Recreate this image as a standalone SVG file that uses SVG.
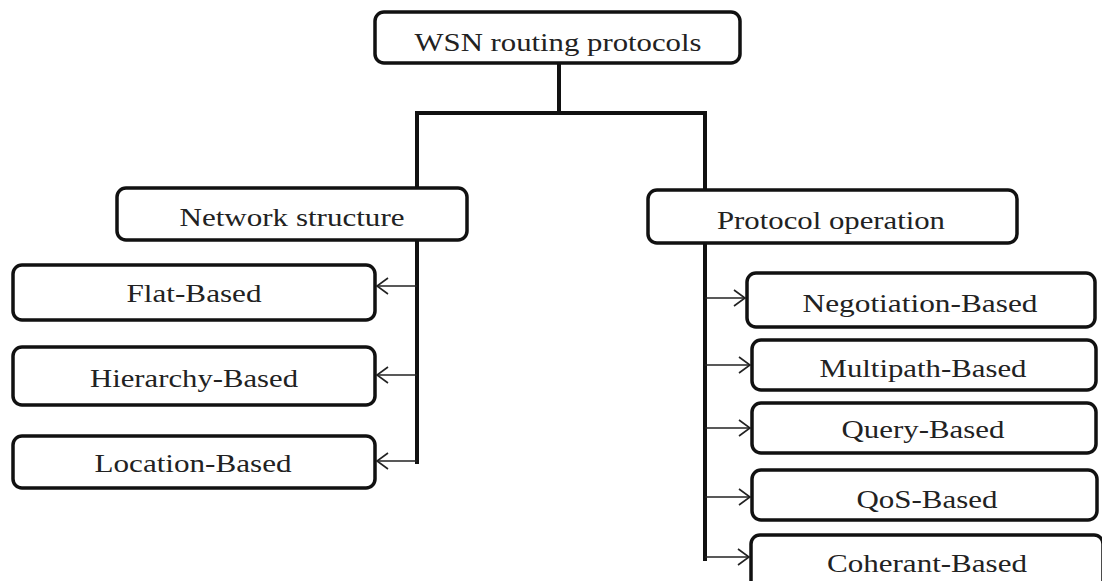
<svg xmlns="http://www.w3.org/2000/svg" width="1102" height="581" viewBox="0 0 1102 581">
<style>
.box{fill:#fff;stroke:#111;stroke-width:3.5}
.lbl{font-family:"Liberation Serif","Times New Roman",serif;font-size:26px;fill:#222;text-anchor:middle}
.main{fill:none;stroke:#111;stroke-width:4;stroke-linecap:square}
.arr{fill:none;stroke:#222;stroke-width:1.6;marker-end:url(#ah)}
</style>
<defs>
<marker id="ah" markerWidth="14" markerHeight="18" refX="12" refY="9" orient="auto" markerUnits="userSpaceOnUse">
<path d="M1,1 L12,9 L1,17" fill="none" stroke="#222" stroke-width="1.6"/>
</marker>
</defs>
<rect width="1102" height="581" fill="#fff"/>
<g id="connectors">
<path class="main" d="M559,63 V113 M417,113 H705 M417,113 V462 M705,113 V559"/>
<line class="arr" x1="417" y1="286" x2="377" y2="286"/>
<line class="arr" x1="417" y1="375" x2="377" y2="375"/>
<line class="arr" x1="417" y1="461" x2="377" y2="461"/>
<line class="arr" x1="705" y1="298" x2="745" y2="298"/>
<line class="arr" x1="705" y1="365" x2="750" y2="365"/>
<line class="arr" x1="705" y1="428" x2="750" y2="428"/>
<line class="arr" x1="705" y1="497" x2="750" y2="497"/>
<line class="arr" x1="705" y1="557" x2="749" y2="557"/>
</g>
<g id="root"><rect class="box" x="375" y="12" width="365" height="51" rx="9"/><text class="lbl" x="558" y="51" textLength="287" lengthAdjust="spacingAndGlyphs">WSN routing protocols</text></g>
<g id="network"><rect class="box" x="117" y="188" width="350" height="52" rx="9"/><text class="lbl" x="292" y="226" textLength="225" lengthAdjust="spacingAndGlyphs">Network structure</text></g>
<g id="protocol"><rect class="box" x="648" y="190" width="369" height="53" rx="9"/><text class="lbl" x="831" y="229" textLength="228" lengthAdjust="spacingAndGlyphs">Protocol operation</text></g>
<g id="flat"><rect class="box" x="13" y="265" width="362" height="55" rx="9"/><text class="lbl" x="194" y="302" textLength="135" lengthAdjust="spacingAndGlyphs">Flat-Based</text></g>
<g id="hierarchy"><rect class="box" x="13" y="347" width="362" height="58" rx="9"/><text class="lbl" x="194" y="387" textLength="208" lengthAdjust="spacingAndGlyphs">Hierarchy-Based</text></g>
<g id="location"><rect class="box" x="13" y="436" width="362" height="52" rx="9"/><text class="lbl" x="193" y="472" textLength="197" lengthAdjust="spacingAndGlyphs">Location-Based</text></g>
<g id="negotiation"><rect class="box" x="747" y="273" width="348" height="54" rx="9"/><text class="lbl" x="920" y="312" textLength="235" lengthAdjust="spacingAndGlyphs">Negotiation-Based</text></g>
<g id="multipath"><rect class="box" x="752" y="340" width="344" height="50" rx="9"/><text class="lbl" x="923" y="377" textLength="207" lengthAdjust="spacingAndGlyphs">Multipath-Based</text></g>
<g id="query"><rect class="box" x="752" y="403" width="344" height="50" rx="9"/><text class="lbl" x="923" y="438" textLength="163" lengthAdjust="spacingAndGlyphs">Query-Based</text></g>
<g id="qos"><rect class="box" x="752" y="470" width="345" height="50" rx="9"/><text class="lbl" x="927" y="508" textLength="141" lengthAdjust="spacingAndGlyphs">QoS-Based</text></g>
<g id="coherant"><rect class="box" x="751" y="535" width="352" height="60" rx="9"/><text class="lbl" x="927" y="572" textLength="200" lengthAdjust="spacingAndGlyphs">Coherant-Based</text></g>
</svg>
